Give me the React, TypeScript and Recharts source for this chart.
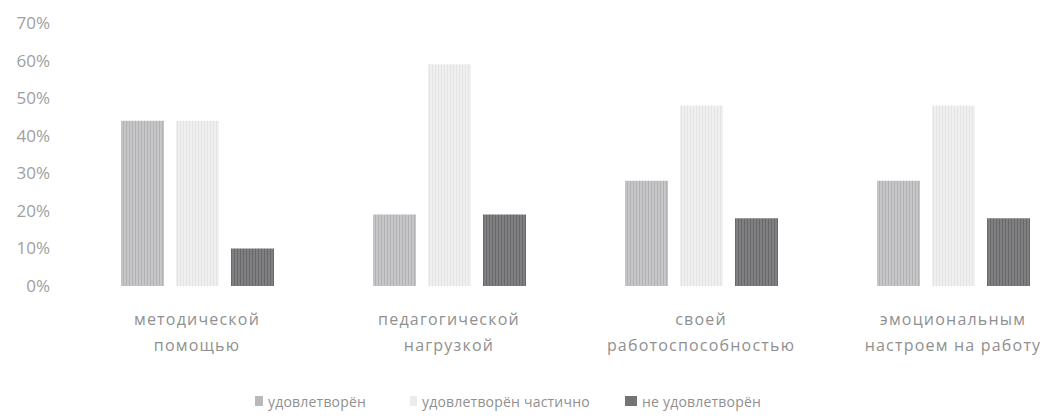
import React from 'react';
import { BarChart, Bar, XAxis, YAxis, Legend } from 'recharts';

const categories = [
  ['методической', 'помощью'],
  ['педагогической', 'нагрузкой'],
  ['своей', 'работоспособностью'],
  ['эмоциональным', 'настроем на работу'],
];
const satisfied = [44, 19, 28, 28];
const partly = [44, 59, 48, 48];
const notSatisfied = [10, 19, 18, 18];
const seriesNames = ['удовлетворён', 'удовлетворён частично', 'не удовлетворён'];
const yTicks = [0, 10, 20, 30, 40, 50, 60, 70];

const data = categories.map((c, i) => ({
  name: c.join('\n'),
  s1: satisfied[i],
  s2: partly[i],
  s3: notSatisfied[i],
}));

const TEXT = '#909090';
const FONT = '"Open Sans", sans-serif';
const legendColors = ['#b9b9bb', '#ececec', '#747477'];
const legendLefts = [255, 410, 625];
const markerWidths = [8, 7, 12];

const XTick = (props: any) => {
  const { x, y, payload } = props;
  const lines = String(payload.value).split('\n');
  return (
    <g transform={`translate(${x},${y})`}>
      {lines.map((l, i) => (
        <text key={i} x={0} y={0} dy={31 + i * 26} textAnchor="middle" fill={TEXT} fontSize={16} fontFamily={FONT} letterSpacing={1.2}>
          {l}
        </text>
      ))}
    </g>
  );
};

const LegendContent = () => (
  <div style={{ position: 'relative', height: 22, fontFamily: FONT, fontSize: 14, color: TEXT }}>
    {seriesNames.map((n, i) => (
      <div key={n} style={{ position: 'absolute', left: legendLefts[i], top: 0, display: 'flex', alignItems: 'center', whiteSpace: 'nowrap', height: 22 }}>
        <span style={{ display: 'inline-block', width: markerWidths[i], height: 10, background: legendColors[i], marginRight: 5 }} />
        <span style={{ letterSpacing: 0.2 }}>{n}</span>
      </div>
    ))}
  </div>
);

export default function App() {
  return (
    <div style={{ position: 'fixed', left: 0, top: 0, width: 1050, height: 418, overflow: 'hidden', background: '#fff' }}>
      <BarChart
        width={1085}
        height={418}
        data={data}
        margin={{ top: 23, right: 6, left: 0, bottom: 32 }}
        barGap={12}
        barSize={43}
      >
        <defs>
          <pattern id="p1" width="3" height="3" patternUnits="userSpaceOnUse">
            <rect width="3" height="3" fill="#c6c6c8" />
            <rect width="1" height="3" fill="#b2b2b4" />
          </pattern>
          <pattern id="p2" width="3" height="3" patternUnits="userSpaceOnUse">
            <rect width="3" height="3" fill="#f0f0f0" />
            <rect width="1" height="3" fill="#e3e3e3" />
          </pattern>
          <pattern id="p3" width="3" height="3" patternUnits="userSpaceOnUse">
            <rect width="3" height="3" fill="#808083" />
            <rect width="1" height="3" fill="#68686b" />
          </pattern>
        </defs>
        <XAxis dataKey="name" axisLine={false} tickLine={false} tick={<XTick />} height={70} interval={0} />
        <YAxis
          width={71}
          domain={[0, 70]}
          ticks={yTicks}
          tickFormatter={(v: number) => `${v}%`}
          axisLine={false}
          tickLine={false}
          tickMargin={15}
          tick={{ fill: '#a0a0a0', fontSize: 17, fontFamily: FONT }}
        />
        <Legend
          height={30}
          content={<LegendContent />}
          wrapperStyle={{ left: 0, top: 390, width: 1050 }}
        />
        <Bar dataKey="s1" name={seriesNames[0]} fill="url(#p1)" isAnimationActive={false} />
        <Bar dataKey="s2" name={seriesNames[1]} fill="url(#p2)" isAnimationActive={false} />
        <Bar dataKey="s3" name={seriesNames[2]} fill="url(#p3)" isAnimationActive={false} />
      </BarChart>
    </div>
  );
}
